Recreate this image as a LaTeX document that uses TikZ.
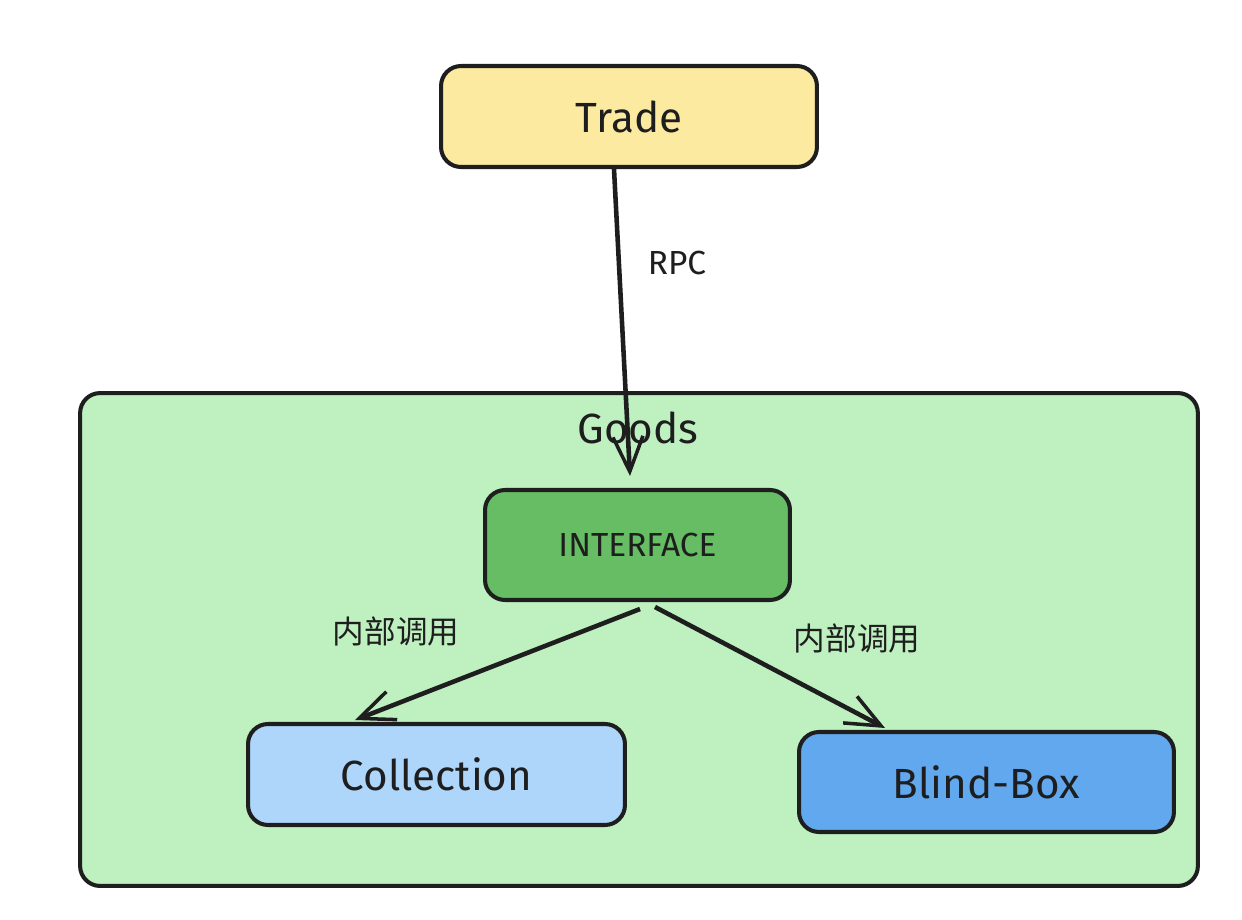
\documentclass[tikz,border=0pt]{standalone}
\usepackage{fontspec}
\setmainfont{Fira Sans}
\newfontfamily\cjk{Noto Sans CJK SC}
\usetikzlibrary{arrows.meta}
\definecolor{ink}{HTML}{1E1E1E}
\definecolor{tradefill}{HTML}{FBEAA0}
\definecolor{goodsfill}{HTML}{BEF0C0}
\definecolor{ifacefill}{HTML}{66BD63}
\definecolor{collfill}{HTML}{AED6FB}
\definecolor{blindfill}{HTML}{62A8EE}
\tikzset{
  box/.style={draw=ink, line width=2.3pt, rounded corners=0.4cm, inner sep=0pt},
  arr/.style={draw=ink, line width=2.6pt, -{Straight Barb[length=0.7cm, width=0.6cm, line width=2pt]}},
  big/.style={font=\fontsize{24}{28}\selectfont, text=ink},
  small/.style={font=\fontsize{19}{22}\selectfont, text=ink},
  cjklabel/.style={font=\cjk\fontsize{18}{21}\selectfont, text=ink}
}

\begin{document}
\begin{tikzpicture}[x=0.02cm, y=-0.02cm]
\useasboundingbox (0, 0) rectangle (1242, 920);
\node [box, fill=goodsfill, minimum width=22.36cm, minimum height=9.86cm] (goods) at (639, 639.5) {};
\node [big] (goodslabel) at (638, 428) {Goods};
\node [box, fill=tradefill, minimum width=7.52cm, minimum height=2.02cm, big] (trade) at (629, 116.5) {Trade};
\node [box, fill=ifacefill, minimum width=6.1cm, minimum height=2.2cm, small] (iface) at (637.5, 545) {INTERFACE};
\node [box, fill=collfill, minimum width=7.54cm, minimum height=2.02cm, big] (coll) at (436.5, 774.5) {Collection};
\node [box, fill=blindfill, minimum width=7.5cm, minimum height=2cm, big] (blind) at (986.5, 782) {Blind-Box};
\draw [arr] ([xshift=-0.3cm]trade.south) -- ([xshift=-0.15cm, yshift=0.24cm]iface.north);
\draw [arr] ([xshift=0.05cm, yshift=-0.14cm]iface.south) -- ([xshift=-1.63cm, yshift=0.04cm]coll.north);
\draw [arr] ([xshift=0.35cm, yshift=-0.1cm]iface.south) -- ([xshift=-2.03cm, yshift=0.04cm]blind.north);
\node [small] (rpc) at (677, 263) {RPC};
\node [cjklabel] (callleft) at (396, 631) {内部调用};
\node [cjklabel] (callright) at (857, 638) {内部调用};
\end{tikzpicture}
\end{document}
